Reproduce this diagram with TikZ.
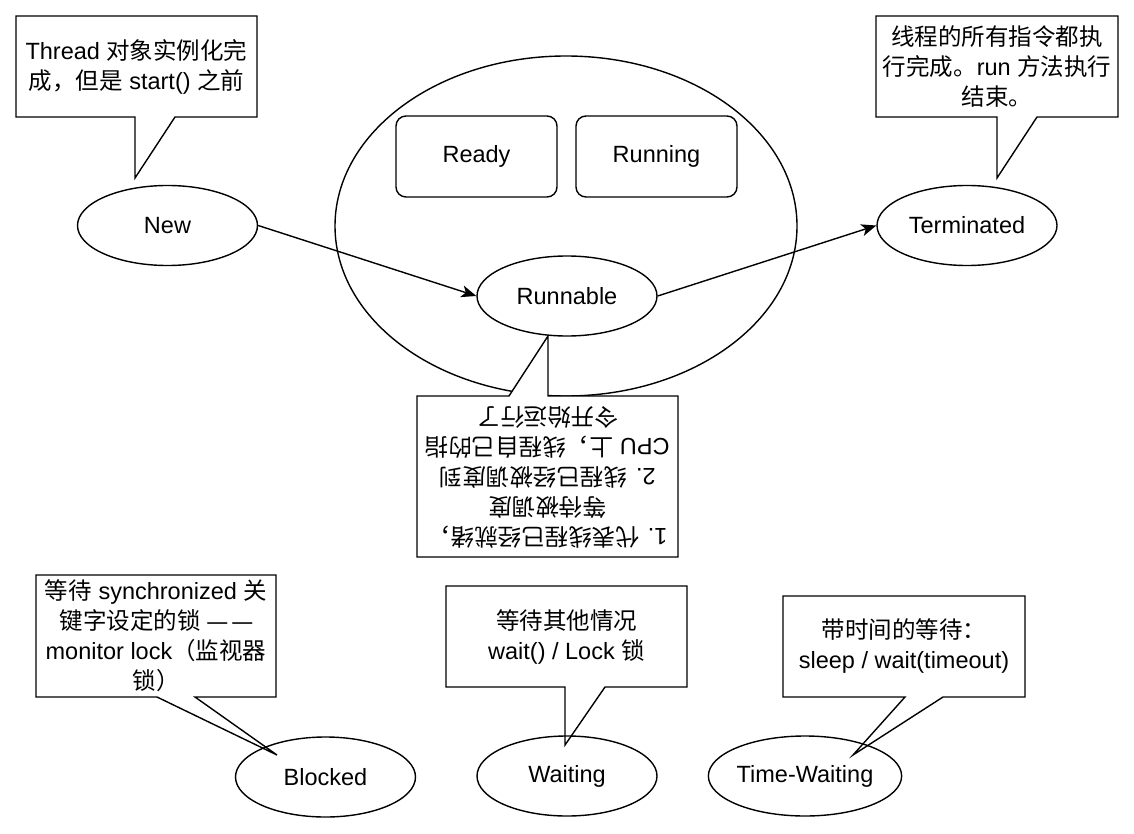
\documentclass[tikz,border=0pt]{standalone}
\usepackage{fontspec}
\setmainfont{Liberation Sans}
\newfontfamily\cjk{Noto Sans CJK SC}
\newcommand\zh[1]{{\cjk #1}}
\usetikzlibrary{shapes.geometric,arrows.meta}
\begin{document}
\begin{tikzpicture}[x=1pt,y=-1pt,
  every node/.style={font=\fontsize{23.5}{30}\selectfont},
  line width=1.4pt,
  state/.style={draw, ellipse, minimum width=180pt, minimum height=80pt, inner sep=0pt},
  sub/.style={draw, rounded corners=10pt, minimum width=161pt, minimum height=81pt, inner sep=0pt},
  callout/.style={draw, fill=white, line join=miter},
  note/.style={align=center, inner sep=0pt},
  arr/.style={-{Stealth[length=15pt,width=12pt,inset=4pt]}}
]
\useasboundingbox (0,0) rectangle (1134,834);

% group ellipse
\node[draw, ellipse, minimum width=462pt, minimum height=340pt, inner sep=0pt] (group) at (566,226) {};
\node[sub] (ready) at (476.5,156.5) {Ready};
\node[sub] (running) at (656.5,156.5) {Running};

% callouts
\draw[callout] (16,16) -- (257,16) -- (257,117) -- (175,117) -- (135,178) -- (135,117) -- (16,117) -- cycle;
\node[note] (n1) at (136.5,66.5) {Thread \zh{对象实例化完}\\\zh{成，但是} start() \zh{之前}};

\draw[callout] (876,16) -- (1118,16) -- (1118,117) -- (1037,117) -- (997,178) -- (997,117) -- (876,117) -- cycle;
\node[note] (n2) at (997,66.5) {\zh{线程的所有指令都执}\\\zh{行完成。}run \zh{方法执行}\\\zh{结束。}};

\draw[callout] (417,557) -- (417,396) -- (509,396) -- (548,336) -- (548,396) -- (678,396) -- (678,557) -- cycle;
\node[note, rotate=180] (n3) at (547.5,477) {1. \zh{代表线程已经就绪，}\\\zh{等待被调度}\\2. \zh{线程已经被调度到}\\CPU \zh{上，线程自己的指}\\\zh{令开始运行了}};

\draw[callout] (36,575) -- (276,575) -- (276,697) -- (195,697) -- (277,755) -- (157,697) -- (36,697) -- cycle;
\node[note] (n4) at (156,636) {\zh{等待} synchronized \zh{关}\\\zh{键字设定的锁} \scalebox{0.85}[1]{—}\hspace{5pt}\scalebox{0.85}[1]{—}\\monitor lock\zh{（监视器}\\\zh{锁）}};

\draw[callout] (446,586) -- (687,586) -- (687,687) -- (605,687) -- (565,745) -- (565,687) -- (446,687) -- cycle;
\node[note] (n5) at (566.5,636.5) {\zh{等待其他情况}\\wait() / Lock \zh{锁}};

\draw[callout] (783,596) -- (1025,596) -- (1025,697) -- (943,697) -- (853,755) -- (905,697) -- (783,697) -- cycle;
\node[note] (n6) at (904,646.5) {\zh{带时间的等待：}\\sleep / wait(timeout)};

% states
\node[state, fill=white] (new) at (167.5,225.5) {New};
\node[state, fill=white] (term) at (967,225.5) {Terminated};
\node[state, fill=white] (runnable) at (567,296) {Runnable};
\node[state] (blocked) at (325.5,777) {Blocked};
\node[state] (waiting) at (567,776) {Waiting};
\node[state] (timewaiting) at (805,776) {Time-Waiting};

% transitions
\draw[arr] (new.east) -- (runnable.west);
\draw[arr] (runnable.east) -- (term.west);
\end{tikzpicture}
\end{document}
